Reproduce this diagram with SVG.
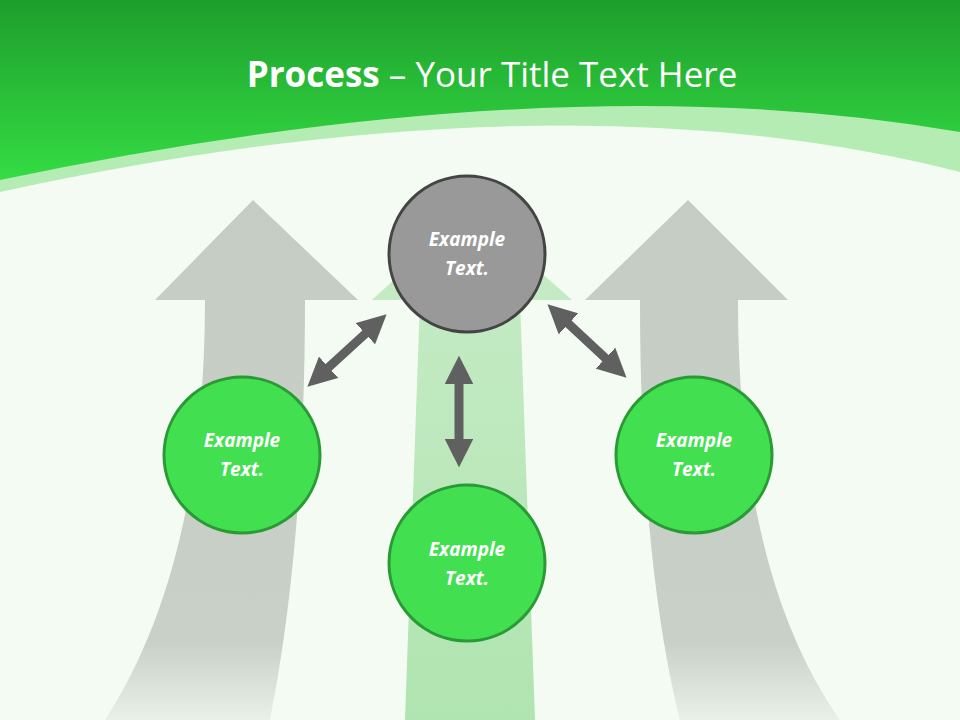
<svg xmlns="http://www.w3.org/2000/svg" width="960" height="720" viewBox="0 0 960 720">
<defs>
<linearGradient id="hdr" x1="0" y1="0" x2="0" y2="1"><stop offset="0" stop-color="#1e9e2c"/><stop offset="1" stop-color="#34dc44"/></linearGradient>
<linearGradient id="ga" x1="0" y1="0" x2="0" y2="1"><stop offset="0" stop-color="#c4ccc4"/><stop offset="0.85" stop-color="#c8d0c8"/><stop offset="1" stop-color="#e8f0e8"/></linearGradient>
<linearGradient id="gc" x1="0" y1="0" x2="0" y2="1"><stop offset="0" stop-color="#c8ecc8"/><stop offset="1" stop-color="#b0e4b0"/></linearGradient>
<marker id="ah" viewBox="0 0 10 10" refX="5" refY="5" markerWidth="3.2" markerHeight="3.2" orient="auto-start-reverse"><path d="M0,0 L10,5 L0,10 z" fill="#606060"/></marker>
<style>
.node{fill:#42e050;stroke:#2a9a35;stroke-width:3}
.t{font-family:"Open Sans","Liberation Sans",sans-serif;font-weight:bold;font-style:italic;font-size:19px;fill:#fff;text-anchor:middle}
.c{stroke:#606060;stroke-width:9;fill:none;marker-start:url(#ah);marker-end:url(#ah)}
</style>
</defs>
<rect width="960" height="720" fill="#f3fbf3"/>
<path d="M0,0 H960 V172 Q560,70 0,192 Z" fill="#b4ecb4"/>
<path d="M0,0 H960 V132 Q560,62 0,180 Z" fill="url(#hdr)"/>
<text x="492" y="87" text-anchor="middle" font-family="'Open Sans','Liberation Sans',sans-serif" font-size="35" fill="#fff"><tspan font-weight="bold">Process</tspan> – Your Title Text Here</text>
<g id="arrow-left"><path d="M155,300 L253,200 L358,300 L305,300 C305,480 290,620 270,720 L105,720 C170,620 205,480 205,300 Z" fill="url(#ga)"/></g>
<g id="arrow-center"><path d="M372,300 L470,210 L572,300 L520,300 L535,720 L405,720 L420,300 Z" fill="url(#gc)"/></g>
<g id="arrow-right"><path d="M585,300 L688,200 L788,300 L738,300 C738,480 770,620 840,720 L680,720 C655,620 640,480 640,300 Z" fill="url(#ga)"/></g>
<g id="connectors">
<line class="c" x1="318" y1="377" x2="376" y2="324"/>
<line class="c" x1="459" y1="370" x2="459" y2="453"/>
<line class="c" x1="558" y1="314" x2="616" y2="368"/>
</g>
<g id="n-top"><circle cx="467" cy="254" r="78" fill="#999" stroke="#444" stroke-width="3"/><text class="t" x="467" y="246">Example</text><text class="t" x="467" y="275">Text.</text></g>
<g id="n-left"><circle class="node" cx="242" cy="455" r="78"/><text class="t" x="242" y="447">Example</text><text class="t" x="242" y="476">Text.</text></g>
<g id="n-bottom"><circle class="node" cx="467" cy="563" r="78"/><text class="t" x="467" y="556">Example</text><text class="t" x="467" y="585">Text.</text></g>
<g id="n-right"><circle class="node" cx="694" cy="455" r="78"/><text class="t" x="694" y="447">Example</text><text class="t" x="694" y="476">Text.</text></g>
</svg>
